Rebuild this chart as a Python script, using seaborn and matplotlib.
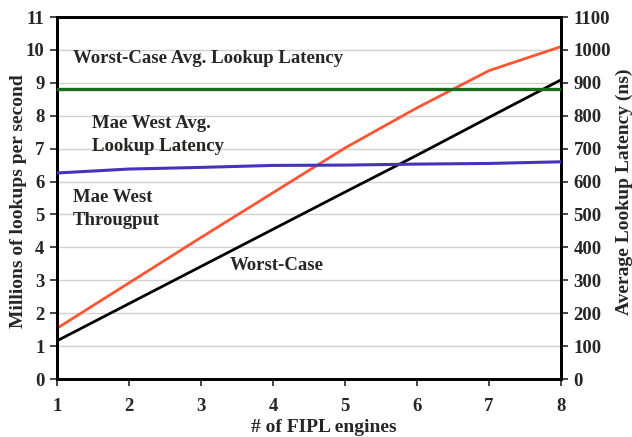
import matplotlib
matplotlib.use("Agg")
import matplotlib.pyplot as plt
import seaborn as sns
import pandas as pd

# FIPL engine count vs. throughput (left axis) and latency (right axis)
engines = [1, 2, 3, 4, 5, 6, 7, 8]
mae_west_throughput = [1.54, 2.92, 4.30, 5.66, 7.02, 8.24, 9.37, 10.10]
worst_case_throughput = [1.16, 2.29, 3.42, 4.55, 5.68, 6.80, 7.95, 9.09]
mae_west_latency = [626, 638, 643, 649, 650, 653, 655, 660]
worst_case_latency = [880, 880, 880, 880, 880, 880, 880, 880]

left_ticks = list(range(0, 12))
right_ticks = list(range(0, 1101, 100))

sns.set_theme(style="white")
plt.rcParams["font.family"] = ["Liberation Serif", "DejaVu Serif"]
plt.rcParams["font.weight"] = "bold"

df = pd.DataFrame({
    "engines": engines,
    "mw_tp": mae_west_throughput,
    "wc_tp": worst_case_throughput,
    "mw_lat": mae_west_latency,
    "wc_lat": worst_case_latency,
})

W, H = 632, 437
fig = plt.figure(figsize=(W / 100, H / 100), dpi=100)
ax = fig.add_axes([57 / W, 1 - 379 / H, (561 - 57) / W, (379 - 17) / H])
ax2 = ax.twinx()

for y in left_ticks[1:]:
    ax.axhline(y, color="#d2d2ca", lw=1.0, zorder=0)

sns.lineplot(data=df, x="engines", y="mw_tp", ax=ax, color="#ff5533", lw=2, zorder=3)
sns.lineplot(data=df, x="engines", y="wc_tp", ax=ax, color="#000000", lw=2, zorder=3)
sns.lineplot(data=df, x="engines", y="mw_lat", ax=ax2, color="#4433bb", lw=2.2, zorder=3)
sns.lineplot(data=df, x="engines", y="wc_lat", ax=ax2, color="#1c6b1c", lw=2.4, zorder=3)

ax.set_xlim(1, 8)
ax.set_ylim(0, 11)
ax2.set_ylim(0, 1100)
ax.set_xticks(engines)
ax.set_yticks(left_ticks)
ax2.set_yticks(right_ticks)

tick_font = dict(fontsize=13.5, fontweight="bold")
ax.set_xticklabels([str(e) for e in engines], **tick_font)
ax.set_yticklabels([str(t) for t in left_ticks], **tick_font)
ax2.set_yticklabels([str(t) for t in right_ticks], **tick_font)

ax.tick_params(axis="x", direction="out", length=5, width=1.2, pad=9, bottom=True)
ax.tick_params(axis="y", direction="out", length=5, width=1.2, pad=4, left=True)
ax2.tick_params(axis="y", direction="out", length=5, width=1.2, pad=4, right=True)

for a in (ax, ax2):
    for s in a.spines.values():
        s.set_linewidth(2)
        s.set_color("black")

ax.set_xlabel("")
ax.set_ylabel("")
ax2.set_ylabel("")

lab = dict(fontsize=14, fontweight="bold", ha="center", va="center")
fig.text(324 / W, 1 - 427 / H, "# of FIPL engines", **lab)
fig.text(19 / W, 1 - 201 / H, "Millions of lookups per second", rotation=90, **lab)
fig.text(624 / W, 1 - 192 / H, "Average Lookup Latency (ns)", rotation=90, **lab)

txt = dict(fontsize=13.5, fontweight="bold", transform=ax.transData, va="center", ha="left")
ax.text(1.22, 9.75, "Worst-Case Avg. Lookup Latency", **txt)
ax.text(1.48, 7.77, "Mae West Avg.", **txt)
ax.text(1.48, 7.07, "Lookup Latency", **txt)
ax.text(1.22, 5.52, "Mae West", **txt)
ax.text(1.22, 4.82, "Througput", **txt)
ax.text(3.4, 3.44, "Worst-Case", **txt)

fig.savefig("out.png", dpi=100)
